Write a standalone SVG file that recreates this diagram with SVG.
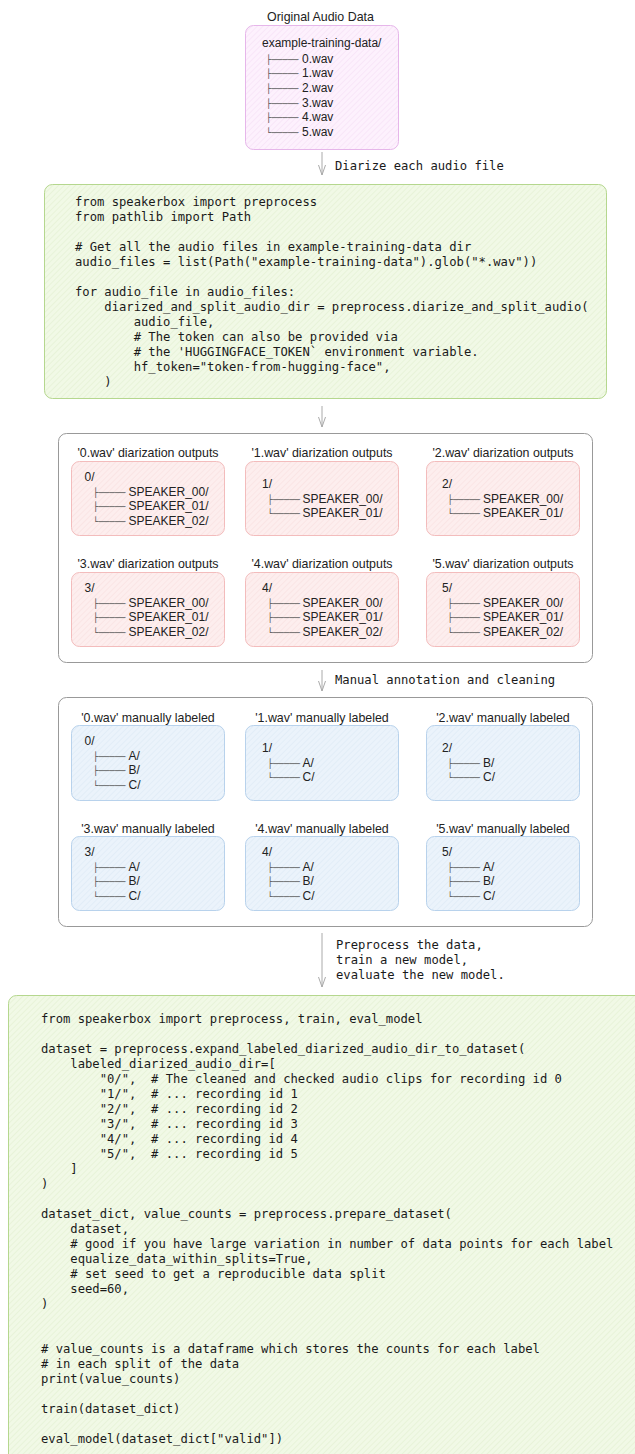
<svg xmlns="http://www.w3.org/2000/svg" width="635" height="1454" viewBox="0 0 635 1454">
<style>
.lbl{font-family:"Liberation Sans",Arial,sans-serif;font-size:12px;fill:#222}
.hdr{font-family:"Liberation Sans",Arial,sans-serif;font-size:12.4px;fill:#222}
.tr{font-family:"DejaVu Sans",sans-serif;font-size:9px;fill:#555}
.code{font-family:"DejaVu Sans Mono","Liberation Mono",monospace;font-size:12.2px;fill:#1a1a1a;white-space:pre}
.elbl{font-family:"DejaVu Sans Mono","Liberation Mono",monospace;font-size:12.2px;fill:#1a1a1a;white-space:pre}
.cluster{fill:#fff;stroke:#999;stroke-width:1}
.pinkN{fill:url(#hPink);stroke:#f3bcbc;stroke-width:1}
.blueN{fill:url(#hBlue);stroke:#b8d2ec;stroke-width:1}
.greenN{fill:url(#hGreen);stroke:#b5d78e;stroke-width:1}
.violetN{fill:url(#hViolet);stroke:#e6b6ea;stroke-width:1}
.edge{stroke:#aaa;stroke-width:1;fill:none}
</style>
<defs>
<pattern id="hPink" width="4" height="4" patternUnits="userSpaceOnUse" patternTransform="rotate(45)"><rect width="4" height="4" fill="#fdeeee"/><line x1="0" y1="0" x2="0" y2="4" stroke="#f8e0e0" stroke-width="1.2"/></pattern>
<pattern id="hBlue" width="4" height="4" patternUnits="userSpaceOnUse" patternTransform="rotate(45)"><rect width="4" height="4" fill="#ebf3fb"/><line x1="0" y1="0" x2="0" y2="4" stroke="#dde9f5" stroke-width="1.2"/></pattern>
<pattern id="hGreen" width="4" height="4" patternUnits="userSpaceOnUse" patternTransform="rotate(45)"><rect width="4" height="4" fill="#f1f9e6"/><line x1="0" y1="0" x2="0" y2="4" stroke="#e2f0d0" stroke-width="1.2"/></pattern>
<pattern id="hViolet" width="4" height="4" patternUnits="userSpaceOnUse" patternTransform="rotate(45)"><rect width="4" height="4" fill="#fdf1fd"/><line x1="0" y1="0" x2="0" y2="4" stroke="#f5e0f5" stroke-width="1.2"/></pattern>
</defs>

<g id="connectors">
<line class="edge" x1="322" y1="152" x2="322" y2="175"/>
<line class="edge" x1="322" y1="406" x2="322" y2="427"/>
<line class="edge" x1="322" y1="670" x2="322" y2="691"/>
<line class="edge" x1="322" y1="933" x2="322" y2="987"/>
<path class="edge" d="M318.5,165 L322,175 L325.5,165"/>
<path class="edge" d="M318.5,417 L322,427 L325.5,417"/>
<path class="edge" d="M318.5,681 L322,691 L325.5,681"/>
<path class="edge" d="M318.5,977 L322,987 L325.5,977"/>
<text class="elbl" x="335" y="169.5">Diarize each audio file</text>
<text class="elbl" x="335" y="684">Manual annotation and cleaning</text>
<text class="elbl" x="336" y="949">Preprocess the data,</text>
<text class="elbl" x="336" y="964">train a new model,</text>
<text class="elbl" x="336" y="978.5">evaluate the new model.</text>
</g>

<g id="original">
<text class="hdr" x="320.5" y="21" text-anchor="middle">Original Audio Data</text>
<rect class="violetN" x="245.5" y="25.5" width="153" height="124" rx="8"/>
<text class="lbl" x="262" y="47">example-training-data/</text>
<text class="lbl" y="62.5"><tspan class="tr" x="266">├─────</tspan><tspan x="302">0.wav</tspan></text>
<text class="lbl" y="77.2"><tspan class="tr" x="266">├─────</tspan><tspan x="302">1.wav</tspan></text>
<text class="lbl" y="91.9"><tspan class="tr" x="266">├─────</tspan><tspan x="302">2.wav</tspan></text>
<text class="lbl" y="106.6"><tspan class="tr" x="266">├─────</tspan><tspan x="302">3.wav</tspan></text>
<text class="lbl" y="121.3"><tspan class="tr" x="266">├─────</tspan><tspan x="302">4.wav</tspan></text>
<text class="lbl" y="136"><tspan class="tr" x="266">└─────</tspan><tspan x="302">5.wav</tspan></text>
</g>

<g id="diarize_code">
<rect class="greenN" x="44.5" y="184.5" width="562" height="214" rx="8"/>
<text class="code" x="75" y="206">from speakerbox import preprocess</text>
<text class="code" x="75" y="221">from pathlib import Path</text>
<text class="code" x="75" y="251"># Get all the audio files in example-training-data dir</text>
<text class="code" x="75" y="266">audio_files = list(Path("example-training-data").glob("*.wav"))</text>
<text class="code" x="75" y="296">for audio_file in audio_files:</text>
<text class="code" x="75" y="311">    diarized_and_split_audio_dir = preprocess.diarize_and_split_audio(</text>
<text class="code" x="75" y="326">        audio_file,</text>
<text class="code" x="75" y="341">        # The token can also be provided via</text>
<text class="code" x="75" y="356">        # the 'HUGGINGFACE_TOKEN` environment variable.</text>
<text class="code" x="75" y="371">        hf_token="token-from-hugging-face",</text>
<text class="code" x="75" y="386">    )</text>
</g>

<g id="diarization_outputs">
<rect class="cluster" x="58.5" y="433.5" width="534" height="229" rx="8"/>
</g>

<g id="d0">
<text class="hdr" x="148" y="457" text-anchor="middle">'0.wav' diarization outputs</text>
<rect class="pinkN" x="71.5" y="461.5" width="153" height="74" rx="8"/>
<text class="lbl" x="84.5" y="481">0/</text>
<text class="lbl" y="495.5"><tspan class="tr" x="93">├─────</tspan><tspan x="128.5">SPEAKER_00/</tspan></text>
<text class="lbl" y="510"><tspan class="tr" x="93">├─────</tspan><tspan x="128.5">SPEAKER_01/</tspan></text>
<text class="lbl" y="524.5"><tspan class="tr" x="93">└─────</tspan><tspan x="128.5">SPEAKER_02/</tspan></text>
</g>
<g id="d1">
<text class="hdr" x="322" y="457" text-anchor="middle">'1.wav' diarization outputs</text>
<rect class="pinkN" x="245.5" y="461.5" width="153" height="74" rx="8"/>
<text class="lbl" x="262" y="488">1/</text>
<text class="lbl" y="502.5"><tspan class="tr" x="267.5">├─────</tspan><tspan x="302.5">SPEAKER_00/</tspan></text>
<text class="lbl" y="517"><tspan class="tr" x="267.5">└─────</tspan><tspan x="302.5">SPEAKER_01/</tspan></text>
</g>
<g id="d2">
<text class="hdr" x="503" y="457" text-anchor="middle">'2.wav' diarization outputs</text>
<rect class="pinkN" x="426.5" y="461.5" width="153" height="74" rx="8"/>
<text class="lbl" x="442" y="488">2/</text>
<text class="lbl" y="502.5"><tspan class="tr" x="447.5">├─────</tspan><tspan x="483">SPEAKER_00/</tspan></text>
<text class="lbl" y="517"><tspan class="tr" x="447.5">└─────</tspan><tspan x="483">SPEAKER_01/</tspan></text>
</g>
<g id="d3">
<text class="hdr" x="148" y="567.5" text-anchor="middle">'3.wav' diarization outputs</text>
<rect class="pinkN" x="71.5" y="572.5" width="153" height="74" rx="8"/>
<text class="lbl" x="84.5" y="592">3/</text>
<text class="lbl" y="606.5"><tspan class="tr" x="93">├─────</tspan><tspan x="128.5">SPEAKER_00/</tspan></text>
<text class="lbl" y="621"><tspan class="tr" x="93">├─────</tspan><tspan x="128.5">SPEAKER_01/</tspan></text>
<text class="lbl" y="635.5"><tspan class="tr" x="93">└─────</tspan><tspan x="128.5">SPEAKER_02/</tspan></text>
</g>
<g id="d4">
<text class="hdr" x="322" y="567.5" text-anchor="middle">'4.wav' diarization outputs</text>
<rect class="pinkN" x="245.5" y="572.5" width="153" height="74" rx="8"/>
<text class="lbl" x="262" y="592">4/</text>
<text class="lbl" y="606.5"><tspan class="tr" x="267.5">├─────</tspan><tspan x="302.5">SPEAKER_00/</tspan></text>
<text class="lbl" y="621"><tspan class="tr" x="267.5">├─────</tspan><tspan x="302.5">SPEAKER_01/</tspan></text>
<text class="lbl" y="635.5"><tspan class="tr" x="267.5">└─────</tspan><tspan x="302.5">SPEAKER_02/</tspan></text>
</g>
<g id="d5">
<text class="hdr" x="503" y="567.5" text-anchor="middle">'5.wav' diarization outputs</text>
<rect class="pinkN" x="426.5" y="572.5" width="153" height="74" rx="8"/>
<text class="lbl" x="442" y="592">5/</text>
<text class="lbl" y="606.5"><tspan class="tr" x="447.5">├─────</tspan><tspan x="483">SPEAKER_00/</tspan></text>
<text class="lbl" y="621"><tspan class="tr" x="447.5">├─────</tspan><tspan x="483">SPEAKER_01/</tspan></text>
<text class="lbl" y="635.5"><tspan class="tr" x="447.5">└─────</tspan><tspan x="483">SPEAKER_02/</tspan></text>
</g>

<g id="manual_labels">
<rect class="cluster" x="58.5" y="697.5" width="534" height="229" rx="8"/>
</g>

<g id="m0">
<text class="hdr" x="148" y="721.5" text-anchor="middle">'0.wav' manually labeled</text>
<rect class="blueN" x="71.5" y="725.5" width="153" height="75" rx="8"/>
<text class="lbl" x="84.5" y="745">0/</text>
<text class="lbl" y="759.5"><tspan class="tr" x="93">├─────</tspan><tspan x="128.5">A/</tspan></text>
<text class="lbl" y="774"><tspan class="tr" x="93">├─────</tspan><tspan x="128.5">B/</tspan></text>
<text class="lbl" y="788.5"><tspan class="tr" x="93">└─────</tspan><tspan x="128.5">C/</tspan></text>
</g>
<g id="m1">
<text class="hdr" x="322" y="721.5" text-anchor="middle">'1.wav' manually labeled</text>
<rect class="blueN" x="245.5" y="725.5" width="153" height="75" rx="8"/>
<text class="lbl" x="262" y="752">1/</text>
<text class="lbl" y="766.5"><tspan class="tr" x="267.5">├─────</tspan><tspan x="302.5">A/</tspan></text>
<text class="lbl" y="781"><tspan class="tr" x="267.5">└─────</tspan><tspan x="302.5">C/</tspan></text>
</g>
<g id="m2">
<text class="hdr" x="503" y="721.5" text-anchor="middle">'2.wav' manually labeled</text>
<rect class="blueN" x="426.5" y="725.5" width="153" height="75" rx="8"/>
<text class="lbl" x="442" y="752">2/</text>
<text class="lbl" y="766.5"><tspan class="tr" x="447.5">├─────</tspan><tspan x="483">B/</tspan></text>
<text class="lbl" y="781"><tspan class="tr" x="447.5">└─────</tspan><tspan x="483">C/</tspan></text>
</g>
<g id="m3">
<text class="hdr" x="148" y="832.5" text-anchor="middle">'3.wav' manually labeled</text>
<rect class="blueN" x="71.5" y="836.5" width="153" height="74" rx="8"/>
<text class="lbl" x="84.5" y="856">3/</text>
<text class="lbl" y="870.5"><tspan class="tr" x="93">├─────</tspan><tspan x="128.5">A/</tspan></text>
<text class="lbl" y="885"><tspan class="tr" x="93">├─────</tspan><tspan x="128.5">B/</tspan></text>
<text class="lbl" y="899.5"><tspan class="tr" x="93">└─────</tspan><tspan x="128.5">C/</tspan></text>
</g>
<g id="m4">
<text class="hdr" x="322" y="832.5" text-anchor="middle">'4.wav' manually labeled</text>
<rect class="blueN" x="245.5" y="836.5" width="153" height="74" rx="8"/>
<text class="lbl" x="262" y="856">4/</text>
<text class="lbl" y="870.5"><tspan class="tr" x="267.5">├─────</tspan><tspan x="302.5">A/</tspan></text>
<text class="lbl" y="885"><tspan class="tr" x="267.5">├─────</tspan><tspan x="302.5">B/</tspan></text>
<text class="lbl" y="899.5"><tspan class="tr" x="267.5">└─────</tspan><tspan x="302.5">C/</tspan></text>
</g>
<g id="m5">
<text class="hdr" x="503" y="832.5" text-anchor="middle">'5.wav' manually labeled</text>
<rect class="blueN" x="426.5" y="836.5" width="153" height="74" rx="8"/>
<text class="lbl" x="442" y="856">5/</text>
<text class="lbl" y="870.5"><tspan class="tr" x="447.5">├─────</tspan><tspan x="483">A/</tspan></text>
<text class="lbl" y="885"><tspan class="tr" x="447.5">├─────</tspan><tspan x="483">B/</tspan></text>
<text class="lbl" y="899.5"><tspan class="tr" x="447.5">└─────</tspan><tspan x="483">C/</tspan></text>
</g>

<g id="train_code">
<rect class="greenN" x="8.5" y="995.5" width="660" height="490" rx="8"/>
<text class="code" x="41" y="1023">from speakerbox import preprocess, train, eval_model</text>
<text class="code" x="41" y="1053">dataset = preprocess.expand_labeled_diarized_audio_dir_to_dataset(</text>
<text class="code" x="41" y="1068">    labeled_diarized_audio_dir=[</text>
<text class="code" x="41" y="1083">        "0/",  # The cleaned and checked audio clips for recording id 0</text>
<text class="code" x="41" y="1098">        "1/",  # ... recording id 1</text>
<text class="code" x="41" y="1113">        "2/",  # ... recording id 2</text>
<text class="code" x="41" y="1128">        "3/",  # ... recording id 3</text>
<text class="code" x="41" y="1143">        "4/",  # ... recording id 4</text>
<text class="code" x="41" y="1158">        "5/",  # ... recording id 5</text>
<text class="code" x="41" y="1173">    ]</text>
<text class="code" x="41" y="1188">)</text>
<text class="code" x="41" y="1218">dataset_dict, value_counts = preprocess.prepare_dataset(</text>
<text class="code" x="41" y="1233">    dataset,</text>
<text class="code" x="41" y="1248">    # good if you have large variation in number of data points for each label</text>
<text class="code" x="41" y="1263">    equalize_data_within_splits=True,</text>
<text class="code" x="41" y="1278">    # set seed to get a reproducible data split</text>
<text class="code" x="41" y="1293">    seed=60,</text>
<text class="code" x="41" y="1308">)</text>
<text class="code" x="41" y="1353"># value_counts is a dataframe which stores the counts for each label</text>
<text class="code" x="41" y="1368"># in each split of the data</text>
<text class="code" x="41" y="1383">print(value_counts)</text>
<text class="code" x="41" y="1413">train(dataset_dict)</text>
<text class="code" x="41" y="1443">eval_model(dataset_dict["valid"])</text>
</g>
</svg>
